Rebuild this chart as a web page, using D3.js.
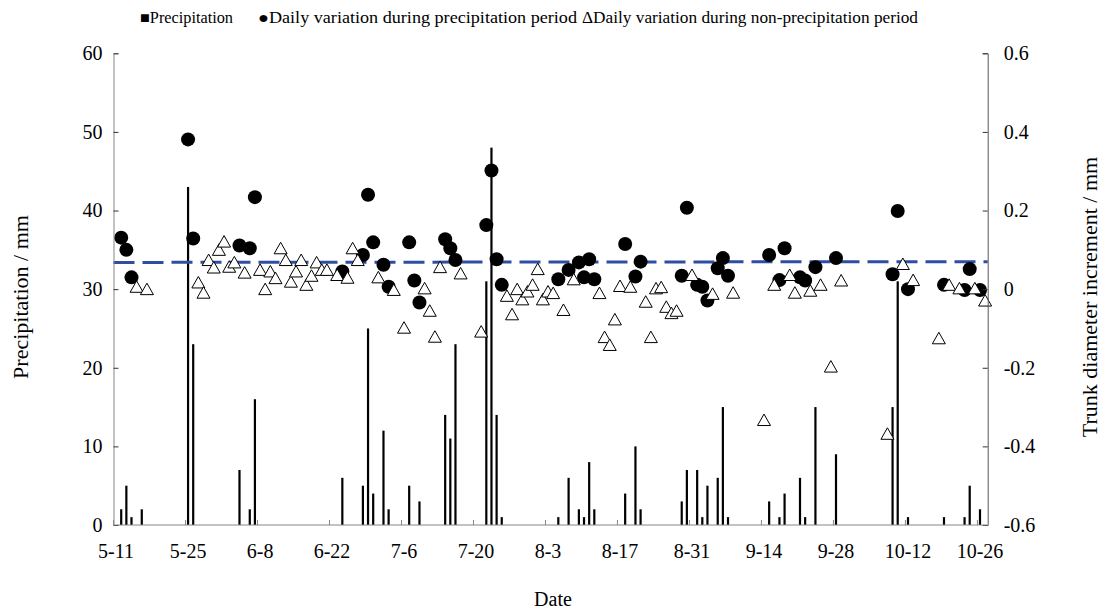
<!DOCTYPE html>
<html>
<head>
<meta charset="utf-8">
<script src="https://cdn.jsdelivr.net/npm/d3@7"></script>
<style>
  html, body { margin: 0; padding: 0; background: #fff; }
  svg text { font-family: "Liberation Serif", "Times New Roman", serif; fill: #000; }
</style>
</head>
<body>
<svg id="chart" width="1105" height="615"></svg>
<script>
// ---- data (day index counted from 5-11) ----
const nCategories = 170;
const tickDays = [0, 14, 28, 42, 56, 70, 84, 98, 112, 126, 140, 154, 168];
const tickLabels = ["5-11", "5-25", "6-8", "6-22", "7-6", "7-20", "8-3", "8-17", "8-31", "9-14", "9-28", "10-12", "10-26"];

const precipDays = [1, 2, 3, 5, 14, 15, 24, 26, 27, 44, 48, 49, 50, 52, 53, 57, 59, 64, 65, 66, 72, 73, 74, 75, 86, 88, 90, 91, 92, 93, 99, 101, 102, 110, 111, 113, 114, 115, 117, 118, 119, 127, 129, 130, 133, 134, 136, 140, 151, 152, 154, 161, 165, 166, 168];
const precipValues = [2, 5, 1, 2, 43, 23, 7, 2, 16, 6, 5, 25, 4, 12, 2, 5, 3, 14, 11, 23, 31, 48, 14, 1, 1, 6, 2, 1, 8, 2, 4, 10, 2, 3, 7, 7, 1, 5, 6, 15, 1, 3, 1, 4, 6, 1, 15, 9, 15, 31, 1, 1, 1, 5, 2];

const wetDays = [1, 2, 3, 14, 15, 24, 26, 27, 44, 48, 49, 50, 52, 53, 57, 58, 59, 64, 65, 66, 72, 73, 74, 75, 86, 88, 90, 91, 92, 93, 99, 101, 102, 110, 111, 113, 114, 115, 117, 118, 119, 127, 129, 130, 133, 134, 136, 140, 151, 152, 154, 161, 165, 166, 168];
const wetValues = [0.131, 0.100, 0.030, 0.381, 0.129, 0.111, 0.104, 0.234, 0.045, 0.087, 0.240, 0.119, 0.062, 0.006, 0.119, 0.022, -0.034, 0.127, 0.104, 0.074, 0.163, 0.302, 0.076, 0.011, 0.025, 0.049, 0.068, 0.030, 0.076, 0.025, 0.115, 0.032, 0.070, 0.034, 0.207, 0.011, 0.006, -0.029, 0.053, 0.079, 0.034, 0.087, 0.023, 0.104, 0.030, 0.022, 0.056, 0.079, 0.038, 0.199, 0.000, 0.011, -0.002, 0.051, -0.002];

const dryDays = [4, 6, 16, 17, 18, 19, 20, 21, 22, 23, 25, 28, 29, 30, 31, 32, 33, 34, 35, 36, 37, 38, 39, 40, 41, 43, 45, 46, 47, 51, 54, 56, 60, 61, 62, 63, 67, 71, 76, 77, 78, 79, 80, 81, 82, 83, 84, 85, 87, 89, 94, 95, 96, 97, 98, 100, 103, 104, 105, 106, 107, 108, 109, 112, 116, 120, 126, 128, 131, 132, 135, 137, 139, 141, 150, 153, 155, 160, 162, 164, 167, 169];
const dryValues = [0.006, 0.000, 0.017, -0.009, 0.074, 0.055, 0.100, 0.121, 0.057, 0.068, 0.042, 0.049, 0.000, 0.045, 0.028, 0.104, 0.074, 0.019, 0.045, 0.074, 0.011, 0.034, 0.068, 0.049, 0.049, 0.036, 0.029, 0.104, 0.074, 0.030, -0.002, -0.098, 0.002, -0.055, -0.121, 0.056, 0.040, -0.108, -0.017, -0.064, 0.000, -0.026, -0.006, 0.011, 0.051, -0.026, -0.006, -0.010, -0.053, 0.025, -0.010, -0.122, -0.142, -0.077, 0.008, 0.006, -0.032, -0.122, 0.002, 0.005, -0.045, -0.061, -0.055, 0.036, -0.012, -0.009, -0.333, 0.011, 0.036, -0.009, -0.004, 0.011, -0.197, 0.022, -0.368, 0.064, 0.023, -0.125, 0.011, 0.002, 0.002, -0.029];

const trendDays = [-0.5, 169.5];
const trendValues = [0.068, 0.070];

const leftTicks = [0, 10, 20, 30, 40, 50, 60];
const rightTicks = [-0.6, -0.4, -0.2, 0, 0.2, 0.4, 0.6];

// ---- layout ----
const plot = { left: 113.5, right: 987.7, top: 53.3, bottom: 525 };
const svg = d3.select("#chart");

const x = d3.scaleLinear().domain([-0.5, nCategories - 0.5]).range([plot.left, plot.right]);
const yL = d3.scaleLinear().domain([0, 60]).range([plot.bottom, plot.top]);
const yR = d3.scaleLinear().domain([-0.6, 0.6]).range([plot.bottom, plot.top]);

const axisColor = "#868686";

// bars
svg.append("g").selectAll("rect").data(precipDays.map((d, i) => ({ d, v: precipValues[i] })))
  .join("rect")
  .attr("x", p => x(p.d) - 1.1)
  .attr("width", 2.2)
  .attr("y", p => yL(p.v))
  .attr("height", p => yL(0) - yL(p.v))
  .attr("fill", "#000");

// trend line
const trend = trendDays.map((d, i) => [d, trendValues[i]]);
svg.append("path")
  .attr("d", d3.line().x(p => x(p[0])).y(p => yR(p[1]))(trend))
  .attr("fill", "none")
  .attr("stroke", "#2f4ea3")
  .attr("stroke-width", 3)
  .attr("stroke-dasharray", "21,8");

// circles (precipitation period)
svg.append("g").selectAll("circle").data(wetDays.map((d, i) => ({ d, v: wetValues[i] })))
  .join("circle")
  .attr("cx", p => x(p.d))
  .attr("cy", p => yR(p.v))
  .attr("r", 7)
  .attr("fill", "#000");

// triangles (non-precipitation period)
const triPath = (cx, cy) => `M${cx},${cy - 6}L${cx + 6.5},${cy + 5.5}L${cx - 6.5},${cy + 5.5}Z`;
svg.append("g").selectAll("path").data(dryDays.map((d, i) => ({ d, v: dryValues[i] })))
  .join("path")
  .attr("d", p => triPath(x(p.d), yR(p.v)))
  .attr("fill", "#fff")
  .attr("stroke", "#000")
  .attr("stroke-width", 1);

// left axis
const gL = svg.append("g").attr("transform", `translate(${plot.left},0)`)
  .call(d3.axisLeft(yL).tickValues(leftTicks).tickSize(-5).tickPadding(11).tickFormat(d3.format("d")));
gL.attr("font-family", null);
gL.select(".domain").attr("stroke", axisColor);
gL.selectAll(".tick line").attr("stroke", "#333");
gL.selectAll("text").attr("font-size", 20);

// right axis
const gR = svg.append("g").attr("transform", `translate(${plot.right},0)`)
  .call(d3.axisRight(yR).tickValues(rightTicks).tickSize(-5).tickPadding(16).tickFormat(d => d === 0 ? "0" : d3.format(".1f")(d).replace("−", "-")));
gR.attr("font-family", null);
gR.select(".domain").attr("stroke", "#595959");
gR.selectAll(".tick line").attr("stroke", "#333");
gR.selectAll("text").attr("font-size", 20);

// bottom axis
const gB = svg.append("g");
gB.append("line").attr("x1", plot.left).attr("x2", plot.right)
  .attr("y1", yL(0)).attr("y2", yL(0)).attr("stroke", axisColor);
gB.selectAll("line.tk").data(tickDays).join("line").attr("class", "tk")
  .attr("x1", d => x(d - 0.5)).attr("x2", d => x(d - 0.5))
  .attr("y1", yL(0)).attr("y2", yL(0) - 5).attr("stroke", axisColor);
gB.selectAll("text").data(tickDays).join("text")
  .attr("x", d => x(d))
  .attr("y", 558)
  .attr("text-anchor", "middle")
  .attr("font-size", 20)
  .text((d, i) => tickLabels[i]);

// axis titles
svg.append("text").attr("transform", "translate(28,297) rotate(-90)")
  .attr("text-anchor", "middle").attr("font-size", 22).text("Precipitation / mm");
svg.append("text").attr("transform", "translate(1097,297) rotate(-90)")
  .attr("text-anchor", "middle").attr("font-size", 22).text("Trunk diameter increment / mm");
svg.append("text").attr("x", 553).attr("y", 606)
  .attr("text-anchor", "middle").attr("font-size", 20).text("Date");

// legend
const legendItems = [
  { label: "■Precipitation", x: 140, w: 93 },
  { label: "●Daily variation during precipitation period", x: 258, w: 319 },
  { label: "ΔDaily variation during non-precipitation period", x: 582, w: 336 }
];
svg.append("g").selectAll("text").data(legendItems).join("text")
  .attr("x", d => d.x).attr("y", 23)
  .attr("font-size", 16)
  .attr("textLength", d => d.w)
  .attr("lengthAdjust", "spacingAndGlyphs")
  .text(d => d.label);
</script>
</body>
</html>
